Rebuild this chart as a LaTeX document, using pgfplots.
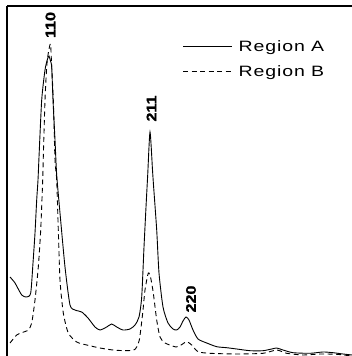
\documentclass[border=0pt]{standalone}
\usepackage{fontspec}
\setmainfont{Liberation Sans}
\newfontfamily\legfont[FakeStretch=1.3, LetterSpace=6]{Liberation Sans}
\newfontfamily\labfont[FakeStretch=1.15, FakeBold=1.2]{Liberation Sans}
\usepackage{pgfplots}
\pgfplotsset{compat=1.18}
\begin{document}
\begin{tikzpicture}
\useasboundingbox (-7pt,0pt) rectangle (345pt,356pt);
\begin{axis}[
  at={(0pt,0pt)}, anchor=south west,
  scale only axis, width=345pt, height=350pt,
  xmin=7, xmax=352, ymin=0, ymax=350,
  axis x line=top, axis y line=left,
  axis line style={-, line width=1.6pt},
  ticks=none,
  legend style={draw=none, fill=none, at={(axis description cs:0.5093,0.9)}, anchor=north west,
    inner sep=0pt, outer sep=0pt, row sep=14pt, column sep=6pt,
    font=\legfont\fontsize{15}{18}\selectfont,
    nodes={inner sep=0pt, outer sep=0pt, text depth=0pt}},
  legend cell align=left,
  legend image code/.code={\draw[#1] (0pt,0pt) -- (49pt,0pt);},
]
\addplot[black, line width=0.9pt, smooth, tension=0.4] coordinates {
(10,79)(15,73)(21.7,61)(26.7,59)(30.7,63)(33,93)(35,123)(36.7,156)(38,176)(39,199)(41.7,256)(45,286)(47.5,297)(49,300)(50.5,295)(51.7,289)(53,256)(55,216)(56.7,181)(60,143)(65,89)(70,51)(75,46)(81.7,44)(88,38)(95,29)(100,26)(106.7,29)(111.7,32)(116.7,29)(123,26)(130,27)(135,31)(139,39)(141.7,59)(144,109)(146,149)(147.7,181)(150,224)(152.5,186)(153.5,171)(156.7,126)(159,83)(163,49)(168,33)(173,27)(176.7,26)(180,29)(183,35)(186,39)(189,36)(193,26)(198,17)(206.7,13)(216.7,9.3)(226.7,8.3)(236.7,7)(250,5.3)(263,5.3)(271.7,7)(276.7,8)(283,6)(293,3.3)(310,2.7)(323,4)(333,3.3)(343,2)(352,1)
};
\addlegendentry{Region A}
\addplot[black, line width=0.9pt, dash pattern=on 5pt off 3.5pt, smooth, tension=0.4] coordinates {
(10,13)(16.7,21)(21.7,23.3)(28.3,26)(31.7,33)(35,56)(38.3,89)(40.7,126)(42.7,176)(43.3,199)(45,256)(46.7,289)(48.3,303)(50.5,312)(51.7,289)(53.3,256)(55,196)(56.7,176)(58.3,126)(60,76)(63.3,43)(68.3,23)(76.7,14)(86.7,11)(100,8)(113,6)(126.7,5.3)(135,6.7)(139.3,16)(142.7,43)(145,66)(148.3,83)(150.7,78)(153.3,63)(156.7,36)(160,19)(165,13)(176,9)(181,11)(186.7,14.3)(191.7,11)(198,4.3)(210,2.7)(236.7,2)(263,2.7)(276.7,6)(286.7,2.7)(303,1)(320,2)(336.7,1.7)(352,0)
};
\addlegendentry{Region B}
\node[rotate=90, font=\labfont\bfseries\fontsize{14}{16}\selectfont, inner sep=0pt] at (axis cs:50.5,331) {110};
\node[rotate=90, font=\labfont\bfseries\fontsize{14}{16}\selectfont, inner sep=0pt] at (axis cs:151.5,247.5) {211};
\node[rotate=90, font=\labfont\bfseries\fontsize{14}{16}\selectfont, inner sep=0pt] at (axis cs:191,57) {220};
\end{axis}
\end{tikzpicture}
\end{document}
